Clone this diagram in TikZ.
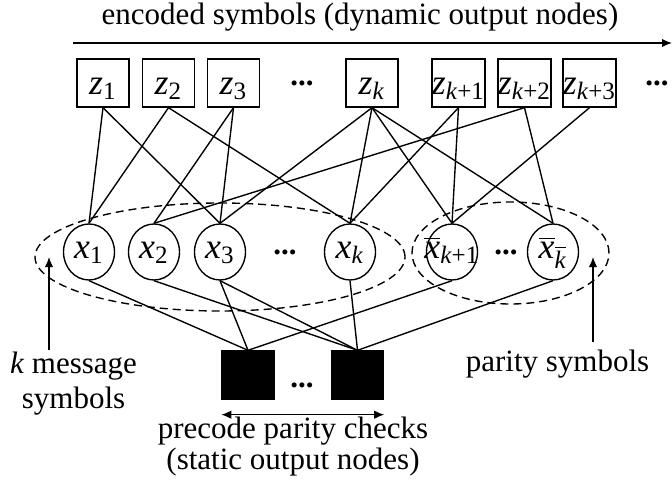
\documentclass[tikz,border=0pt]{standalone}
\usepackage{fontspec}
\setmainfont{Liberation Serif}
\usetikzlibrary{shapes.geometric,arrows.meta}

\newcommand{\zsym}[1]{\textit{z}\textsubscript{#1}}
\newcommand{\xsym}[1]{\makebox[0pt]{\textit{x}\textsubscript{#1}}}
\newcommand{\xbsym}[1]{\makebox[0pt]{$\overline{\mbox{\textit{x}}}$\textsubscript{#1}}}
\newcommand{\kb}{$\overline{\mbox{\textit{k}}}$}

\begin{document}
\begin{tikzpicture}[x=0.4pt,y=-0.4pt, line width=0.55pt,
    every node/.style={font=\fontsize{12.4}{14}\selectfont},
    zbox/.style={draw, rectangle, minimum width=20.8pt, minimum height=19.2pt, inner sep=0pt,
        font=\fontsize{14.3}{16}\selectfont, text height=9.2pt, text depth=0pt},
    xnode/.style={draw, ellipse, minimum width=20.4pt, minimum height=22.4pt, inner sep=0pt,
        font=\fontsize{14.3}{16}\selectfont, text height=5.2pt, text depth=0pt},
    checkbox/.style={draw, fill=black, rectangle, minimum width=20.8pt, minimum height=19.2pt, inner sep=0pt},
    group/.style={draw, ellipse, dash pattern=on 3.2pt off 2pt, inner sep=0pt},
    dots/.style={font=\fontsize{12.4}{14}\selectfont\bfseries, inner sep=0pt}]
    \useasboundingbox (0,0) rectangle (672,492);
    % encoded symbols
    \node[anchor=base] (enc) at (360,25) {encoded symbols (dynamic output nodes)};
    \coordinate (enc0) at (73,43);
    \coordinate (enc1) at (672,43);
    \draw[-{Latex[length=4pt,width=3.4pt]}] (enc0) -- (enc1);
    \node[zbox] (z1) at (103,83) {\zsym{1}};
    \node[zbox] (z2) at (168.5,83) {\zsym{2}};
    \node[zbox] (z3) at (233.5,83) {\zsym{3}};
    \node[dots] (zdots) at (302,83) {...};
    \node[zbox] (zk) at (372,83) {\zsym{\textit{k}}};
    \node[zbox] (zk1) at (458.5,83) {\zsym{\textit{k}+1}};
    \node[zbox] (zk2) at (524.5,83) {\zsym{\textit{k}+2}};
    \node[zbox] (zk3) at (589.5,83) {\zsym{\textit{k}+3}};
    \node[dots] (zdotsr) at (657,83) {...};
    % message and parity symbols
    \node[group, minimum width=148pt, minimum height=43.2pt] (msg) at (220,257) {};
    \node[group, minimum width=78.8pt, minimum height=40.8pt] (par) at (510.5,253) {};
    \node[xnode] (x1) at (89,252) {\xsym{1}};
    \node[xnode] (x2) at (154,252) {\xsym{2}};
    \node[xnode] (x3) at (220,252) {\xsym{3}};
    \node[dots] (xdots) at (285,252) {...};
    \node[xnode] (xk) at (350,252) {\xsym{\textit{k}}};
    \node[xnode] (xk1) at (452,252) {\xbsym{\textit{k}+1}};
    \node[dots] (xdotsr) at (506,252) {...};
    \node[xnode] (xkb) at (553,252) {\xbsym{\kb}};
    % precode parity checks
    \node[checkbox] (c1) at (248,375) {};
    \node[dots] (cdots) at (302,385) {...};
    \node[checkbox] (c2) at (357.5,375) {};
    \draw[{Latex[length=4pt,width=3.4pt]}-{Latex[length=4pt,width=3.4pt]}] ([yshift=-6pt]c1.south west) -- ([yshift=-6pt]c2.south east);
    \node[anchor=north, align=center, inner sep=0pt, font=\fontsize{12.4}{12.6}\selectfont] (chk) at (293,416) {precode parity checks\\(static output nodes)};
    % labels
    \node[anchor=north, align=center, inner sep=0.4pt] (kmsg) at (73.5,350) {\textit{k} message\\symbols};
    \node[anchor=base, inner sep=2.8pt] (plbl) at (557.5,371) {parity symbols};
    \coordinate (msgtip) at (49,257);
    \coordinate (partip) at (593,257);
    \draw[-{Latex[length=4pt,width=3.4pt]}] (kmsg.north -| msgtip) -- (msgtip);
    \draw[-{Latex[length=4pt,width=3.4pt]}] (plbl.north -| partip) -- (partip);
    % output node edges
    \draw (z1.south) -- (x1.north);
    \draw (z1.south) -- (x3.north);
    \draw (z2.south) -- (x1.north);
    \draw (z2.south) -- (xk.north);
    \draw (z3.south) -- (x2.north);
    \draw (z3.south) -- (x3.north);
    \draw (zk.south) -- (x3.north);
    \draw (zk.south) -- (xk.north);
    \draw (zk.south) -- (xk1.north);
    \draw (zk.south) -- (xkb.north);
    \draw (zk1.south) -- (xk.north);
    \draw (zk1.south) -- (xk1.north);
    \draw (zk2.south) -- (x2.north);
    \draw (zk2.south) -- (xkb.north);
    \draw (zk3.south) -- (xk1.north);
    % precode edges
    \draw (x1.south) -- (c1.north);
    \draw (x3.south) -- (c1.north);
    \draw (xk1.south) -- (c1.north);
    \draw (x2.south) -- (c2.north);
    \draw (x3.south) -- (c2.north);
    \draw (xk.south) -- (c2.north);
    \draw (xkb.south) -- (c2.north);
\end{tikzpicture}
\end{document}
